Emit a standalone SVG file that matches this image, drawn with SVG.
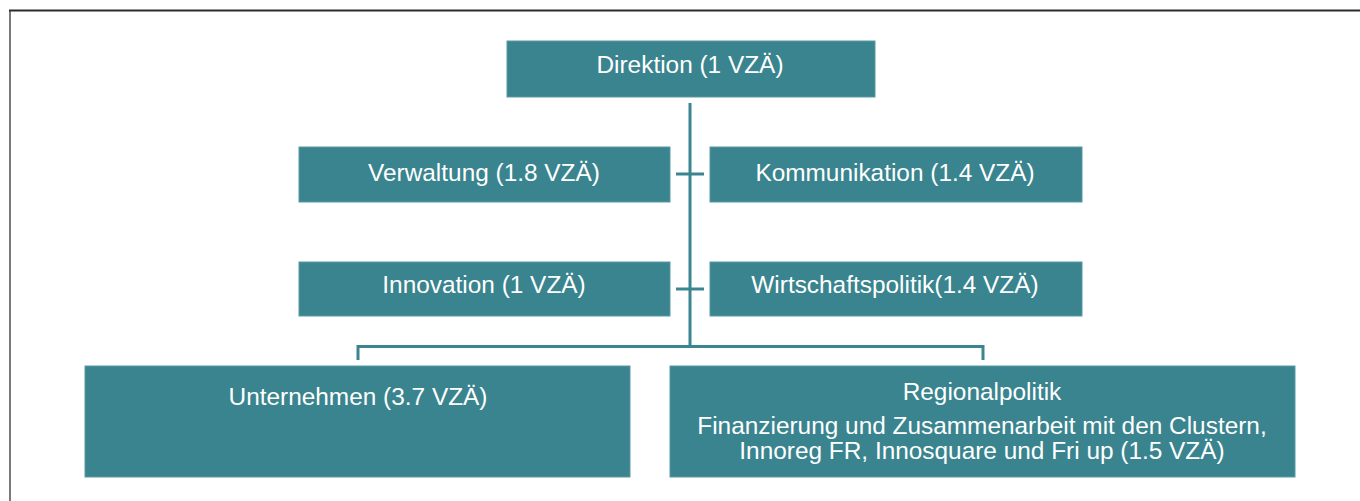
<svg xmlns="http://www.w3.org/2000/svg" width="1360" height="501" viewBox="0 0 1360 501">
<style>
.box{fill:#39848e;stroke:#5a9aa3;stroke-width:1}
.t{font-family:"Liberation Sans",Arial,sans-serif;font-size:24.4px;fill:#ffffff;text-anchor:middle}
.c{fill:none;stroke:#3a858f;stroke-width:3}
</style>
<rect x="0" y="0" width="1360" height="501" fill="#ffffff"/>
<g id="frame">
<line x1="10" y1="10" x2="10" y2="501" stroke="#7a7a7a" stroke-width="2"/>
<line x1="9" y1="10.5" x2="1360" y2="10.5" stroke="#2b2b2b" stroke-width="2"/>
</g>
<g id="connectors">
<line class="c" x1="690" y1="103" x2="690" y2="347"/>
<line class="c" x1="676" y1="174" x2="704" y2="174"/>
<line class="c" x1="676" y1="289" x2="704" y2="289"/>
<polyline class="c" points="358,360 358,346.5 983,346.5 983,360"/>
</g>
<g id="direktion">
<rect class="box" x="507" y="41" width="368" height="56"/>
<text class="t" x="690" y="73">Direktion (1 VZÄ)</text>
</g>
<g id="verwaltung">
<rect class="box" x="299" y="147" width="371" height="55"/>
<text class="t" x="484" y="181">Verwaltung (1.8 VZÄ)</text>
</g>
<g id="kommunikation">
<rect class="box" x="710" y="147" width="372" height="55"/>
<text class="t" x="895" y="181">Kommunikation (1.4 VZÄ)</text>
</g>
<g id="innovation">
<rect class="box" x="299" y="262" width="371" height="54"/>
<text class="t" x="484" y="293">Innovation (1 VZÄ)</text>
</g>
<g id="wirtschaftspolitik">
<rect class="box" x="710" y="262" width="372" height="54"/>
<text class="t" x="895" y="293">Wirtschaftspolitik(1.4 VZÄ)</text>
</g>
<g id="unternehmen">
<rect class="box" x="85" y="366" width="545" height="111"/>
<text class="t" x="358" y="405">Unternehmen (3.7 VZÄ)</text>
</g>
<g id="regionalpolitik">
<rect class="box" x="670" y="366" width="625" height="111"/>
<text class="t" x="982" y="400">Regionalpolitik</text>
<text class="t" x="982" y="434">Finanzierung und Zusammenarbeit mit den Clustern,</text>
<text class="t" x="982" y="459">Innoreg FR, Innosquare und Fri up (1.5 VZÄ)</text>
</g>
</svg>
